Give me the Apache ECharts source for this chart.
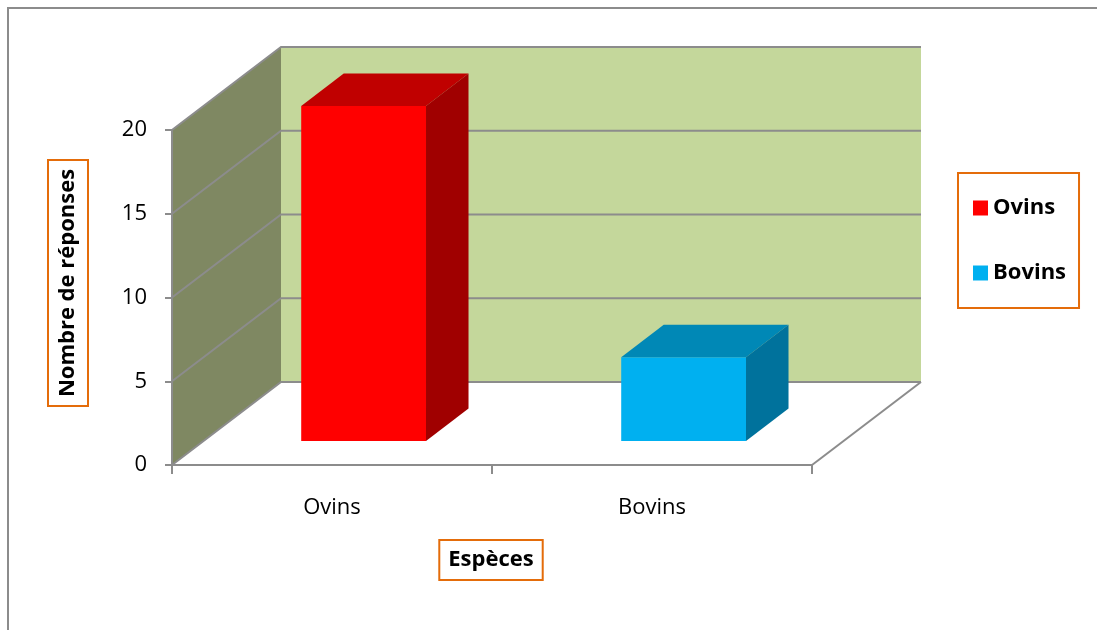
<!DOCTYPE html>
<html>
<head>
<meta charset="utf-8">
<script src="https://cdn.jsdelivr.net/npm/echarts@6/dist/echarts.min.js"></script>
<style>
html,body{margin:0;padding:0;background:#fff;}
#chart{width:1097px;height:630px;}
</style>
</head>
<body>
<div id="chart"></div>
<script>
// ---- data ----
const categories = ['Ovins', 'Bovins'];
const seriesNames = ['Ovins', 'Bovins'];
const values = [20, 5];
const yTicks = [0, 5, 10, 15, 20];
const yTitle = 'Nombre de réponses';
const xTitle = 'Espèces';

// ---- styles ----
const frontColors = ['#FF0000', '#00B0F0'];
const topColors = ['#C00000', '#0088B6'];
const sideColors = ['#A00000', '#00729C'];
const FONT = "'Open Sans', 'DejaVu Sans', sans-serif";
const GRID = '#8C8C8C';
const ORANGE = '#E46C0A';
const DX = 109, DY = 83;       // 3D depth offset of the box
const F = 0.29, D = 0.39, BW = 0.39; // bar front depth, bar depth, bar width fraction

const chart = echarts.init(document.getElementById('chart'), null, {renderer: 'canvas'});

function frameItem(params, api) {
  const cs = params.coordSys;
  const x0 = cs.x, x1 = cs.x + cs.width;
  const yb = api.coord([0, yTicks[0]])[1];
  const yt = api.coord([0, yTicks[yTicks.length - 1]])[1];
  const children = [
    {type: 'polygon', shape: {points: [[x0, yb], [x0, yt], [x0 + DX, yt - DY], [x0 + DX, yb - DY]]},
     style: {fill: '#7F8862'}},
    {type: 'rect', shape: {x: x0 + DX, y: yt - DY, width: x1 - x0, height: yb - yt},
     style: {fill: '#C4D79B'}},
    {type: 'polygon', shape: {points: [[x0, yb], [x1, yb], [x1 + DX, yb - DY], [x0 + DX, yb - DY]]},
     style: {fill: '#FFFFFF'}},
    {type: 'polyline', shape: {points: [[x1, yb], [x1 + DX, yb - DY]]},
     style: {stroke: GRID, lineWidth: 2, fill: null}}
  ];
  yTicks.forEach(v => {
    const y = api.coord([0, v])[1];
    children.push({type: 'polyline', shape: {points: [[x0, y], [x0 + DX, y - DY], [x1 + DX, y - DY]]},
      style: {stroke: GRID, lineWidth: 2, fill: null}});
  });
  return {type: 'group', children};
}

function barItem(k) {
  return function (params, api) {
    const c = api.coord([api.value(0), api.value(1)]);
    const b = api.coord([api.value(0), 0]);
    const band = api.size([1, 0])[0];
    const w = band * BW;
    const fx = c[0] + F * DX - w / 2;
    const top = c[1] - F * DY, bot = b[1] - F * DY;
    const ddx = D * DX, ddy = D * DY;
    return {type: 'group', children: [
      {type: 'rect', shape: {x: fx, y: top, width: w, height: bot - top}, style: {fill: frontColors[k]}},
      {type: 'polygon', shape: {points: [[fx, top], [fx + w, top], [fx + w + ddx, top - ddy], [fx + ddx, top - ddy]]},
       style: {fill: topColors[k]}},
      {type: 'polygon', shape: {points: [[fx + w, top], [fx + w + ddx, top - ddy], [fx + w + ddx, bot - ddy], [fx + w, bot]]},
       style: {fill: sideColors[k]}}
    ]};
  };
}

const series = [{
  type: 'custom', name: 'frame', z: 1, silent: true,
  renderItem: frameItem, data: [[0, 0]], encode: {x: 0, y: 1}
}];
seriesNames.forEach((n, k) => {
  series.push({
    type: 'custom', name: n, z: 4,
    itemStyle: {color: frontColors[k]},
    renderItem: barItem(k),
    data: [[categories[k], values[k]]],
    encode: {x: 0, y: 1}
  });
});

chart.setOption({
  animation: false,
  backgroundColor: '#fff',
  grid: {left: 172, right: 285, top: 130, bottom: 165, containLabel: false},
  xAxis: {
    type: 'category', data: categories, boundaryGap: true, z: 3,
    axisLine: {show: true, lineStyle: {color: GRID, width: 2}},
    axisTick: {show: true, length: 9, lineStyle: {color: GRID, width: 2}},
    axisLabel: {fontSize: 22, color: '#000', fontFamily: FONT, margin: 32},
    splitLine: {show: false}
  },
  yAxis: {
    type: 'value', min: yTicks[0], max: yTicks[yTicks.length - 1], interval: yTicks[1] - yTicks[0], z: 3,
    axisLine: {show: true, lineStyle: {color: GRID, width: 2}},
    axisTick: {show: true, length: 7, lineStyle: {color: GRID, width: 2}},
    axisLabel: {fontSize: 22, color: '#000', fontFamily: FONT, margin: 25},
    splitLine: {show: false}
  },
  legend: {
    data: seriesNames, orient: 'vertical', left: 958, top: 173,
    icon: 'rect', itemWidth: 15, itemHeight: 15, itemGap: 43,
    padding: [24, 13, 24, 15],
    borderColor: ORANGE, borderWidth: 2,
    textStyle: {fontSize: 22, fontWeight: 'bold', color: '#000', fontFamily: FONT, lineHeight: 22}
  },
  graphic: [
    {type: 'rect', shape: {x: 8, y: 8, width: 1200, height: 700}, style: {fill: null, stroke: '#8C8C8C', lineWidth: 2}, z: 0},
    {type: 'text', x: 68, y: 283, rotation: Math.PI / 2,
     style: {text: yTitle, fontSize: 22, fontWeight: 'bold', fontFamily: FONT, fill: '#000', lineHeight: 22,
             align: 'center', verticalAlign: 'middle', padding: [9, 9, 9, 9], borderColor: ORANGE, borderWidth: 2}},
    {type: 'text', x: 491, y: 560,
     style: {text: xTitle, fontSize: 22, fontWeight: 'bold', fontFamily: FONT, fill: '#000', lineHeight: 22,
             align: 'center', verticalAlign: 'middle', padding: [9, 9, 9, 9], borderColor: ORANGE, borderWidth: 2}}
  ],
  series
});
</script>
</body>
</html>
